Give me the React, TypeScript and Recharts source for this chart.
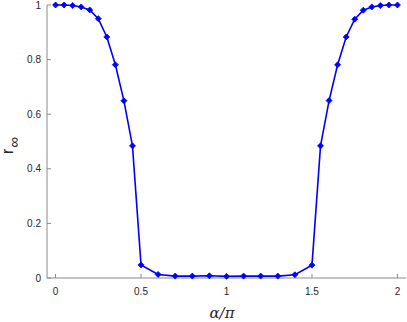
import React from 'react';
import { LineChart, Line, XAxis, YAxis, Label } from 'recharts';

// alpha / pi sample positions
const alpha = [
  0, 0.05, 0.1, 0.15, 0.2, 0.25, 0.3, 0.35, 0.4, 0.45, 0.5,
  0.6, 0.7, 0.8, 0.9, 1.0, 1.1, 1.2, 1.3, 1.4,
  1.5, 1.55, 1.6, 1.65, 1.7, 1.75, 1.8, 1.85, 1.9, 1.95, 2.0,
];

// r_inf values
const rInf = [
  1.0, 1.0, 0.998, 0.993, 0.982, 0.95, 0.883, 0.781, 0.649, 0.484, 0.048,
  0.013, 0.007, 0.007, 0.008, 0.006, 0.007, 0.007, 0.007, 0.012,
  0.047, 0.484, 0.65, 0.781, 0.883, 0.948, 0.981, 0.993, 0.998, 1.0, 1.0,
];

const xTicks = [0, 0.5, 1, 1.5, 2];
const yTicks = [0, 0.2, 0.4, 0.6, 0.8, 1];

const data = alpha.map((a, i) => ({ a, r: rInf[i] }));

const AXIS = '#8a8a8a';
const TEXT = '#262626';
const FONT = '"Liberation Sans", Arial, Helvetica, sans-serif';

const Diamond = (props: any) => {
  const { cx, cy, index } = props;
  if (cx == null || cy == null) return null;
  const s = 3;
  return (
    <path
      key={`d-${index}`}
      d={`M${cx},${cy - s} L${cx + s},${cy} L${cx},${cy + s} L${cx - s},${cy} Z`}
      fill="#0000ff"
      stroke="#0000ff"
      strokeWidth={0.8}
    />
  );
};

const YLabel = () => (
  <text
    x={13}
    y={154}
    transform="rotate(-90, 13, 154)"
    fill={TEXT}
    fontFamily={FONT}
    fontSize={16}
  >
    r
    <tspan dx={1} dy={6} fontSize={15}>∞</tspan>
  </text>
);

const XLabel = () => (
  <text
    x={222}
    y={318}
    textAnchor="middle"
    fill={TEXT}
    fontFamily='"DejaVu Serif", "Liberation Serif", serif'
    fontStyle="italic"
    fontSize={15}
  >
    α/π
  </text>
);

const App: React.FC = () => {
  const tickStyle = { fill: TEXT, fontSize: 10, fontFamily: FONT };
  return (
    <div style={{ position: 'fixed', left: 0, top: 0, background: '#fff' }}>
      <LineChart
        width={407}
        height={322}
        data={data}
        margin={{ top: 5, right: 1, left: 0, bottom: 0 }}
      >
        <XAxis
          xAxisId="bottom"
          dataKey="a"
          type="number"
          domain={[-0.05, 2.05]}
          ticks={xTicks}
          height={44}
          tickSize={-4}
          tickMargin={14}
          tick={tickStyle}
          stroke={AXIS}
          axisLine={{ stroke: AXIS }}
          tickLine={{ stroke: AXIS }}
          label={<Label content={<XLabel />} />}
        />
        <XAxis
          xAxisId="top"
          dataKey="a"
          orientation="top"
          type="number"
          domain={[-0.05, 2.05]}
          ticks={xTicks}
          height={0}
          tickSize={-4}
          tickFormatter={() => ''}
          stroke={AXIS}
          axisLine={{ stroke: AXIS }}
          tickLine={{ stroke: AXIS }}
        />
        <YAxis
          yAxisId="left"
          type="number"
          domain={[0, 1]}
          ticks={yTicks}
          width={47}
          tickSize={-4}
          tickMargin={10}
          tick={tickStyle}
          stroke={AXIS}
          axisLine={{ stroke: AXIS }}
          tickLine={{ stroke: AXIS }}
          label={<Label content={<YLabel />} />}
        />
        <YAxis
          yAxisId="right"
          orientation="right"
          type="number"
          domain={[0, 1]}
          ticks={yTicks}
          width={0}
          tickSize={-4}
          tickFormatter={() => ''}
          stroke={AXIS}
          axisLine={{ stroke: AXIS }}
          tickLine={{ stroke: AXIS }}
        />
        <Line
          xAxisId="bottom"
          yAxisId="left"
          type="linear"
          dataKey="r"
          stroke="#0000ff"
          strokeWidth={1.6}
          dot={Diamond}
          activeDot={false}
          isAnimationActive={false}
        />
        <Line
          xAxisId="top"
          yAxisId="right"
          dataKey="r"
          stroke="none"
          dot={false}
          activeDot={false}
          isAnimationActive={false}
        />
      </LineChart>
    </div>
  );
};

export default App;
